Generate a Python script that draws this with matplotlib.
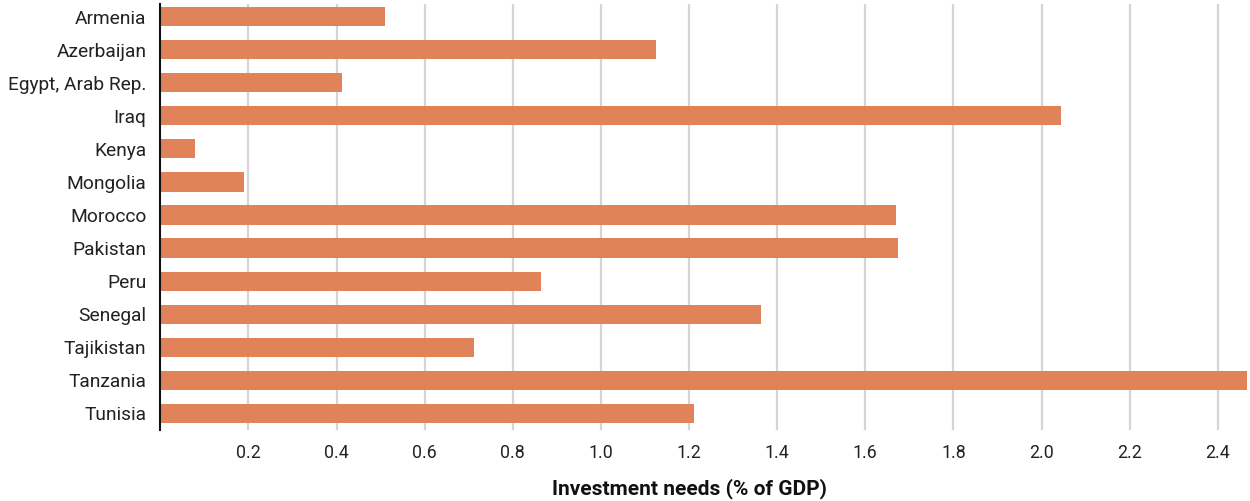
import matplotlib
matplotlib.use("Agg")
import matplotlib.pyplot as plt
from matplotlib.ticker import FixedLocator

countries = ["Armenia", "Azerbaijan", "Egypt, Arab Rep.", "Iraq", "Kenya", "Mongolia",
             "Morocco", "Pakistan", "Peru", "Senegal", "Tajikistan", "Tanzania", "Tunisia"]
values = [0.509, 1.124, 0.412, 2.045, 0.078, 0.190, 1.670, 1.675, 0.863, 1.364, 0.711, 2.47, 1.212]
xticks = [0.2, 0.4, 0.6, 0.8, 1.0, 1.2, 1.4, 1.6, 1.8, 2.0, 2.2, 2.4]
xlabel = "Investment needs (% of GDP)"

plt.rcParams['font.family'] = ['Roboto', 'DejaVu Sans']

fig = plt.figure(figsize=(12.5, 5.01), dpi=100)
ax = fig.add_axes([0.1282, 0.1417, 0.9976 - 0.1282, 0.992 - 0.1417])

ypos = list(range(len(countries)))
ax.barh(ypos, values, height=0.58, color="#E08359", zorder=3)
ax.set_xlim(0, 2.466)
ax.set_ylim(12.5, -0.378)
ax.set_yticks(ypos)
ax.set_yticklabels(countries, fontsize=13.8, color="#222222")
ax.xaxis.set_major_locator(FixedLocator(xticks))
ax.set_xticklabels([f"{t:.1f}" for t in xticks], fontsize=12.8, color="#222222")
ax.tick_params(axis="both", length=0)
ax.tick_params(axis="y", pad=10)
ax.tick_params(axis="x", pad=10)
ax.grid(axis="x", color="#d4d4d4", linewidth=1.6, zorder=0)
for s in ["top", "right", "bottom"]:
    ax.spines[s].set_visible(False)
ax.spines["left"].set_color("#111111")
ax.spines["left"].set_linewidth(1.5)
ax.spines["left"].set_zorder(4)
ax.set_xlabel(xlabel, fontsize=15, fontweight="bold", color="#111111", va="center")
ax.xaxis.set_label_coords((689 - 160.3) / (1247 - 160.3), -(489 - 430) / (430 - 4))

fig.savefig("out.png", dpi=100)
